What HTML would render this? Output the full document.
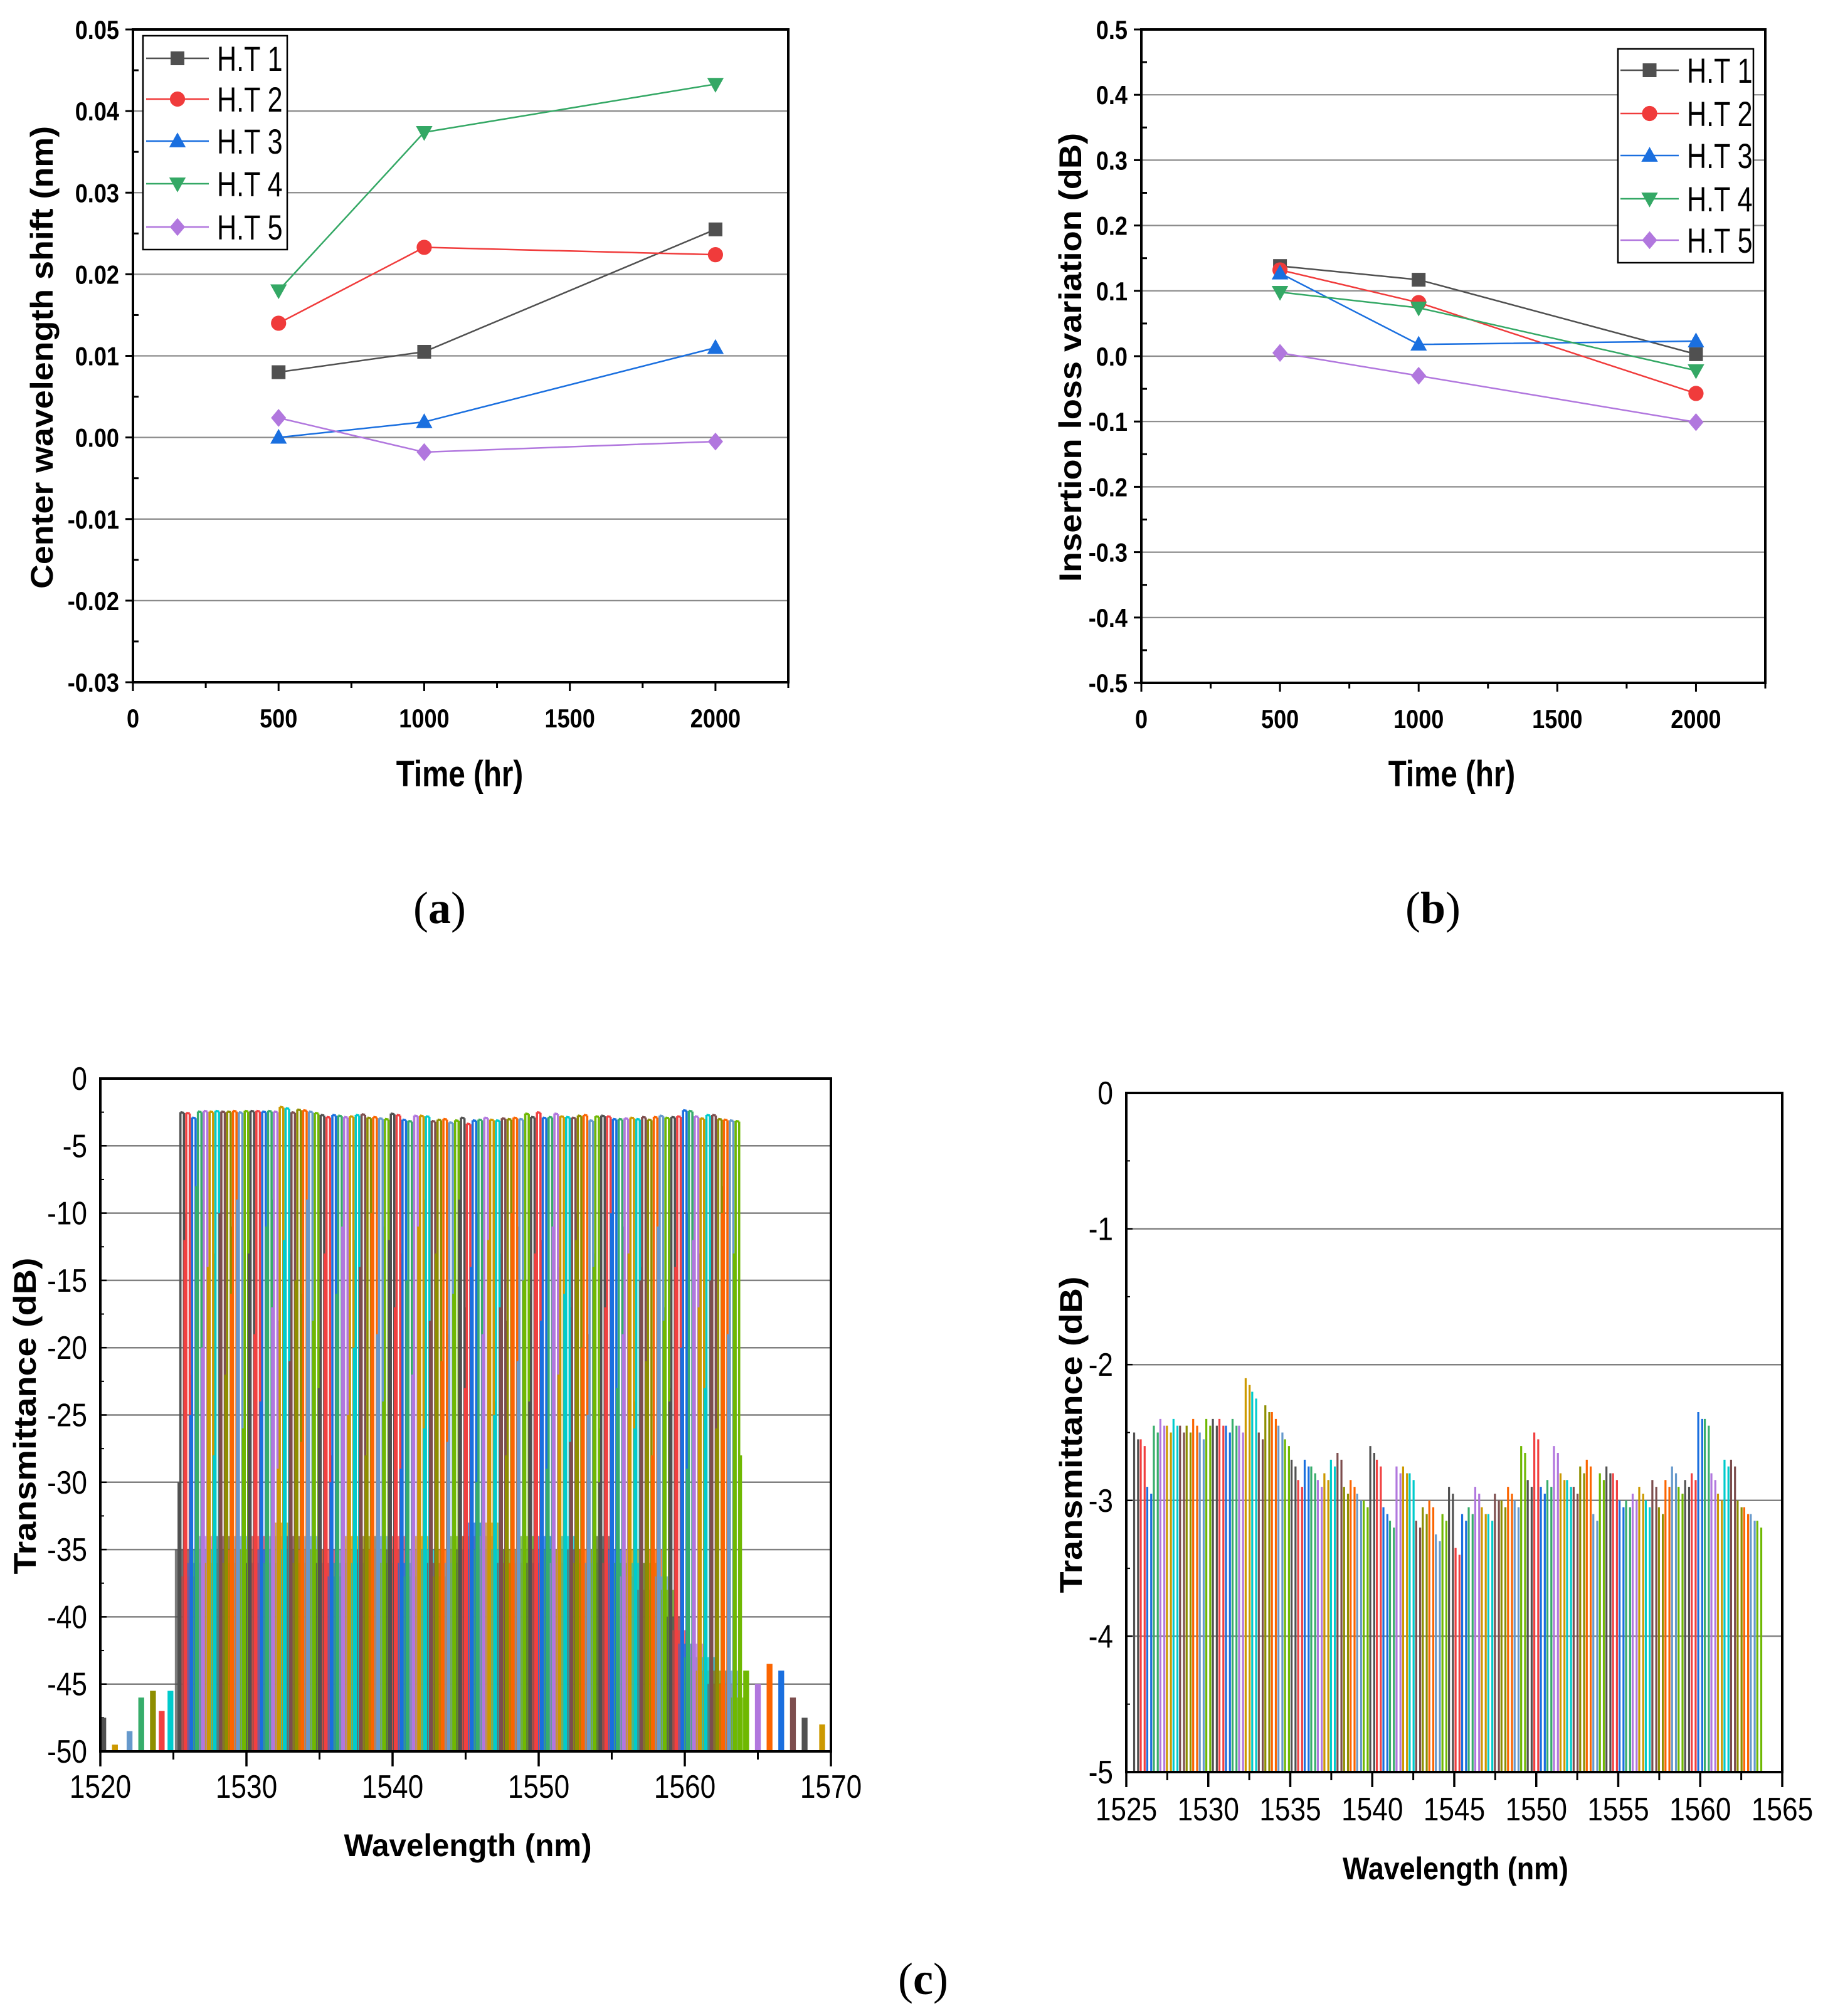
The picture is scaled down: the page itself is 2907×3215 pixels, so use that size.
<!DOCTYPE html>
<html><head><meta charset="utf-8"><title>Reliability and spectra figure</title>
<style>html,body{margin:0;padding:0;background:#fff;}svg{display:block;}</style></head>
<body>
<svg id="fig" xmlns="http://www.w3.org/2000/svg" width="2907" height="3215" viewBox="0 0 2907 3215">
<rect x="0" y="0" width="2907" height="3215" fill="#fff"/>
<text x="701" y="1472" font-family="Liberation Serif, serif" font-size="72" text-anchor="middle">(<tspan font-weight="bold">a</tspan>)</text>
<text x="2285" y="1472" font-family="Liberation Serif, serif" font-size="72" text-anchor="middle">(<tspan font-weight="bold">b</tspan>)</text>
<text x="1472" y="3180" font-family="Liberation Serif, serif" font-size="72" text-anchor="middle">(<tspan font-weight="bold">c</tspan>)</text>
</svg>
<script>
// ---------- data ----------
const timeHours = [500, 1000, 2000];
const seriesNames = ['H.T 1','H.T 2','H.T 3','H.T 4','H.T 5'];
const shiftHT1 = [0.0080, 0.0105, 0.0255];
const shiftHT2 = [0.0140, 0.0233, 0.0224];
const shiftHT3 = [0.0000, 0.0019, 0.0110];
const shiftHT4 = [0.0180, 0.0374, 0.0433];
const shiftHT5 = [0.0024, -0.0018, -0.0005];
const lossHT1 = [0.138, 0.117, 0.003];
const lossHT2 = [0.132, 0.082, -0.057];
const lossHT3 = [0.127, 0.018, 0.023];
const lossHT4 = [0.098, 0.074, -0.022];
const lossHT5 = [0.005, -0.030, -0.101];
const timeTicks = [0, 500, 1000, 1500, 2000];
const timeTickLabels = ['0','500','1000','1500','2000'];
const shiftTicks = [0.05,0.04,0.03,0.02,0.01,0,-0.01,-0.02,-0.03];
const shiftTickLabels = ['0.05','0.04','0.03','0.02','0.01','0.00','-0.01','-0.02','-0.03'];
const lossTicks = [0.5,0.4,0.3,0.2,0.1,0,-0.1,-0.2,-0.3,-0.4,-0.5];
const lossTickLabels = ['0.5','0.4','0.3','0.2','0.1','0.0','-0.1','-0.2','-0.3','-0.4','-0.5'];

const channelStart = 1525.6;
const channelStep = 0.4;
const channelPeaks = [-2.5,-2.55,-2.9,-2.45,-2.4,-2.45,-2.4,-2.45,-2.45,-2.4,-2.5,-2.4,-2.4,-2.4,-2.45,-2.4,
 -2.45,-2.1,-2.2,-2.5,-2.3,-2.35,-2.45,-2.55,-2.7,-2.85,-2.7,-2.75,-2.85,-2.8,-2.7,-2.65,
 -2.9,-2.85,-2.95,-3.0,-2.6,-2.7,-3.05,-3.15,-2.75,-2.75,-2.8,-3.15,-3.05,-3.0,-3.25,-3.1,
 -2.9,-3.35,-3.1,-3.05,-2.9,-3.05,-3.1,-2.95,-3.0,-2.9,-3.0,-2.6,-2.85,-2.5,-2.9,-2.85,
 -2.6,-2.8,-2.85,-2.9,-2.75,-2.7,-3.1,-2.8,-2.75,-2.8,-3.0,-3.0,-2.95,-2.9,-3.0,-2.85,
 -3.05,-2.85,-2.75,-2.9,-2.85,-2.8,-2.35,-2.4,-2.8,-2.95,-2.7,-2.7,-3.0,-3.05,-3.1,-3.15];
const channelSkirts = [-30,-12,-25,-8,-20,-14,-28,-10,-22,-16,-9,-26,-13,-19,-24,-11,
 -17,-29,-12,-21,-15,-27,-9,-18,-23,-13,-30,-16,-11,-25,-20,-14,
 -28,-10,-19,-24,-12,-17,-29,-15,-22,-11,-26,-18,-13,-21,-27,-16,
 -9,-23,-14,-30,-19,-12,-25,-17,-28,-10,-21,-15,-24,-13,-18,-29,
 -11,-22,-16,-27,-12,-20,-25,-14,-30,-17,-10,-23,-19,-13,-26,-15,
 -21,-28,-11,-18,-24,-14,-20,-29,-12,-17,-23,-15,-26,-10,-19,-13];
const channelFloors = [-35,-37,-36,-35,-34,-36,-35,-34,-36,-35,-34,-35,-36,-34,-35,-36,
 -34,-33,-35,-34,-36,-35,-34,-35,-36,-35,-37,-36,-35,-34,-36,-35,
 -34,-35,-34,-36,-35,-34,-36,-37,-35,-34,-35,-36,-37,-35,-36,-34,
 -35,-34,-33,-35,-34,-33,-35,-36,-35,-36,-35,-34,-36,-35,-34,-35,
 -36,-35,-34,-35,-36,-35,-36,-35,-34,-36,-35,-36,-37,-35,-36,-38,
 -36,-35,-37,-38,-40,-41,-42,-43,-42,-44,-43,-45,-44,-45,-44,-46];
const edgeNoiseWl = [1520.2,1521.0,1522.0,1522.8,1523.6,1524.2,1524.8,1564.2,1565.0,1565.8,1566.6,1567.4,1568.2,1569.4];
const edgeNoiseLevel = [-47.5,-49.5,-48.5,-46,-45.5,-47,-45.5,-44,-45,-43.5,-44,-46,-47.5,-48];
const wlTicksL = [1520,1530,1540,1550,1560,1570];
const wlTickLabelsL = ['1520','1530','1540','1550','1560','1570'];
const dbTicksL = [0,-5,-10,-15,-20,-25,-30,-35,-40,-45,-50];
const dbTickLabelsL = ['0','-5','-10','-15','-20','-25','-30','-35','-40','-45','-50'];
const wlTicksR = [1525,1530,1535,1540,1545,1550,1555,1560,1565];
const wlTickLabelsR = ['1525','1530','1535','1540','1545','1550','1555','1560','1565'];
const dbTicksR = [0,-1,-2,-3,-4,-5];
const dbTickLabelsR = ['0','-1','-2','-3','-4','-5'];

// ---------- helpers ----------
const NS = 'http://www.w3.org/2000/svg';
const svg = document.getElementById('fig');
function mk(tag, attrs, parent){
  const e = document.createElementNS(NS, tag);
  for (const k in attrs) e.setAttribute(k, attrs[k]);
  (parent || svg).appendChild(e);
  return e;
}
function txt(parent, x, y, s, size, weight, anchor, sx){
  const t = mk('text', {x:0, y:0, 'font-family':'Liberation Sans, Arial, sans-serif', 'font-size':size,
    'font-weight':weight, 'text-anchor':anchor, fill:'#000',
    transform:'translate('+x+','+y+') scale('+sx+',1)'}, parent);
  t.textContent = s;
  return t;
}
const palette = ['#515151','#F14040','#1A6FDF','#37AD6B','#B177DE','#CC9900','#00CBCC','#7D4E4E','#8E8E00','#FB6501','#6699CC','#6FB802'];
const seriesColors = ['#505050','#F03B3B','#1A6FDF','#34A865','#B177DE'];
const markerTypes = ['square','circle','up','down','diamond'];

function marker(parent, type, cx, cy, color, r){
  let e;
  if (type==='square') e = mk('rect',{x:cx-r,y:cy-r,width:2*r,height:2*r,fill:color},parent);
  else if (type==='circle') e = mk('circle',{cx:cx,cy:cy,r:r*1.1,fill:color},parent);
  else if (type==='up') e = mk('polygon',{points:(cx)+','+(cy-r*1.25)+' '+(cx-r*1.2)+','+(cy+r*0.9)+' '+(cx+r*1.2)+','+(cy+r*0.9),fill:color},parent);
  else if (type==='down') e = mk('polygon',{points:(cx)+','+(cy+r*1.25)+' '+(cx-r*1.2)+','+(cy-r*0.9)+' '+(cx+r*1.2)+','+(cy-r*0.9),fill:color},parent);
  else e = mk('polygon',{points:cx+','+(cy-r*1.3)+' '+(cx+r*1.1)+','+cy+' '+cx+','+(cy+r*1.3)+' '+(cx-r*1.1)+','+cy,fill:color},parent);
  return e;
}

// ---------- line charts ----------
function lineChart(o){
  const g = mk('g', {});
  
  
  const sx = v => o.x0 + (v - o.xmin) / (o.xmax - o.xmin) * (o.x1 - o.x0);
  const sy = v => o.y1 - (v - o.ymin) / (o.ymax - o.ymin) * (o.y1 - o.y0);
  o.yTicks.forEach((v,i) => {
    const y = sy(v);
    if (i>0 && i<o.yTicks.length-1){
      const gl = mk('line',{x1:o.x0,x2:o.x1,y1:y,y2:y,stroke:'#8a8a8a','stroke-width':2.2},g);
      
      
    }
    const tk = mk('line',{x1:o.x0-12,x2:o.x0,y1:y,y2:y,stroke:'#000','stroke-width':3},g);
    
    
    if (i<o.yTicks.length-1){
      const ym = sy((v + o.yTicks[i+1]) / 2);
      mk('line',{x1:o.x0,x2:o.x0+9,y1:ym,y2:ym,stroke:'#000','stroke-width':3},g);
    }
    const lb = txt(g, o.x0-22, y+15, o.yLabels[i], 42, 'bold', 'end', 0.86);
    
    
  });
  o.xTicks.forEach((v,i) => {
    const x = sx(v);
    const tk = mk('line',{x1:x,x2:x,y1:o.y1,y2:o.y1+14,stroke:'#000','stroke-width':3},g);
    
    
    const xm = sx(v+250);
    mk('line',{x1:xm,x2:xm,y1:o.y1,y2:o.y1+9,stroke:'#000','stroke-width':3},g);
    const lb = txt(g, x, o.y1+72, o.xLabels[i], 42, 'bold', 'middle', 0.86);
    
    
  });
  const fr = mk('rect',{x:o.x0,y:o.y0,width:o.x1-o.x0,height:o.y1-o.y0,fill:'none',stroke:'#000','stroke-width':4},g);
  
  
  o.series.forEach((vals, si) => {
    const sg = mk('g',{},g);
    
    
    const pts = vals.map((v,k)=> sx(timeHours[k])+','+sy(v)).join(' ');
    const pl = mk('polyline',{points:pts,fill:'none',stroke:seriesColors[si],'stroke-width':2.5},sg);
    
    
    vals.forEach((v,k)=>{
      const m = marker(sg, markerTypes[si], sx(timeHours[k]), sy(v), seriesColors[si], 11);
      
      
    });
  });
  const L = o.legend;
  const lg = mk('g',{},g);
  
  
  mk('rect',{x:L.x,y:L.y,width:L.w,height:L.h,fill:'#fff',stroke:'#000','stroke-width':2.5},lg);
  seriesNames.forEach((nm,si)=>{
    const ey = L.rows[si];
    const eg = mk('g',{},lg);
    
    
    mk('line',{x1:L.lx0,x2:L.lx1,y1:ey,y2:ey,stroke:seriesColors[si],'stroke-width':2.5},eg);
    marker(eg, markerTypes[si], (L.lx0+L.lx1)/2, ey, seriesColors[si], 11);
    txt(eg, L.tx, ey+20, nm, 56, 'normal', 'start', 0.77);
  });
  const yt = mk('text',{x:0,y:0,'font-family':'Liberation Sans, Arial, sans-serif','font-size':50,'font-weight':'bold',
    'text-anchor':'middle',textLength:o.ylabelLen,lengthAdjust:'spacingAndGlyphs',
    transform:'translate('+o.ylabelX+','+o.ylabelY+') rotate(-90)'},g);
  yt.textContent = o.ylabel;
  
  
  const xt = txt(g, o.xlabelX, 1254, 'Time (hr)', 58, 'bold', 'middle', 0.82);
  
  
}

lineChart({name:'chart-a-wavelength-shift', x0:212, x1:1257, y0:47, y1:1088, xmin:0, xmax:2250, ymin:-0.03, ymax:0.05,
  yTicks:shiftTicks, yLabels:shiftTickLabels, xTicks:timeTicks, xLabels:timeTickLabels,
  series:[shiftHT1,shiftHT2,shiftHT3,shiftHT4,shiftHT5],
  legend:{x:228,y:57,w:230,h:341,lx0:233,lx1:333,tx:346,rows:[93,158,225,293,362]},
  ylabel:'Center wavelength shift (nm)', ylabelLen:738, ylabelX:84, ylabelY:570, xlabelX:733});

lineChart({name:'chart-b-insertion-loss', x0:1820, x1:2815, y0:47, y1:1089, xmin:0, xmax:2250, ymin:-0.5, ymax:0.5,
  yTicks:lossTicks, yLabels:lossTickLabels, xTicks:timeTicks, xLabels:timeTickLabels,
  series:[lossHT1,lossHT2,lossHT3,lossHT4,lossHT5],
  legend:{x:2580,y:78,w:216,h:341,lx0:2584,lx1:2677,tx:2690,rows:[112,181,248,317,383]},
  ylabel:'Insertion loss variation (dB)', ylabelLen:716, ylabelX:1724, ylabelY:570, xlabelX:2315});

// ---------- spectra ----------
function spectrum(o){
  const g = mk('g',{});
  
  
  const sx = v => o.x0 + (v - o.xmin)/(o.xmax - o.xmin)*(o.x1 - o.x0);
  const sy = v => o.y1 - (v - o.ymin)/(o.ymax - o.ymin)*(o.y1 - o.y0);
  const cid = 'clip-'+o.name;
  const cp = mk('clipPath',{id:cid},g);
  mk('rect',{x:o.x0,y:o.y0,width:o.x1-o.x0,height:o.y1-o.y0},cp);
  o.yTicks.forEach((v,i)=>{
    const y = sy(v);
    if (i>0 && i<o.yTicks.length-1){
      const gl = mk('line',{x1:o.x0,x2:o.x1,y1:y,y2:y,stroke:'#808080','stroke-width':2.5},g);
      
      
    }
    mk('line',{x1:o.x0,x2:o.x0+10,y1:y,y2:y,stroke:'#000','stroke-width':2.5},g);
    if (i<o.yTicks.length-1){
      const ym = sy((v+o.yTicks[i+1])/2);
      mk('line',{x1:o.x0,x2:o.x0+6,y1:ym,y2:ym,stroke:'#000','stroke-width':2},g);
    }
    const lb = txt(g, o.x0-21, y+18, o.yLabels[i], 52, 'normal', 'end', 0.85);
    
    
  });
  o.xTicks.forEach((v,i)=>{
    const x = sx(v);
    mk('line',{x1:x,x2:x,y1:o.y1,y2:o.y1+24,stroke:'#000','stroke-width':3.5},g);
    if (i<o.xTicks.length-1){
      const xm = sx((v+o.xTicks[i+1])/2);
      mk('line',{x1:xm,x2:xm,y1:o.y1,y2:o.y1+13,stroke:'#000','stroke-width':3},g);
    }
    const lb = txt(g, x, o.xLabelY, o.xLabels[i], 52, 'normal', 'middle', 0.85);
    
    
  });
  const dg = mk('g',{'clip-path':'url(#'+cid+')'},g);
  
  
  if (o.floors){
    edgeNoiseWl.forEach((w,k)=>{
      const r = mk('rect',{x:sx(w-0.2),y:sy(edgeNoiseLevel[k]),width:sx(w+0.2)-sx(w-0.2),height:o.y1-sy(edgeNoiseLevel[k]),fill:palette[(k*5)%palette.length]},dg);
      
      
    });
    channelFloors.forEach((f,k)=>{
      const c = channelStart + k*channelStep;
      const r = mk('rect',{x:sx(c-0.5),y:sy(f),width:sx(c+0.5)-sx(c-0.5),height:o.y1-sy(f),fill:palette[k%palette.length],'fill-opacity':0.75},dg);
      
      
    });
  }
  channelPeaks.forEach((p,k)=>{
    const c = channelStart + k*channelStep;
    const col = palette[k%palette.length];
    const ch = mk('g',{},dg);
    
    
    const xa = sx(c-0.12), xb = sx(c+0.12);
    const yb = sy(o.ymin);
    mk('line',{x1:xa,x2:xa,y1:yb,y2:sy(p),stroke:col,'stroke-width':o.lw},ch);
    mk('line',{x1:xb,x2:xb,y1:yb,y2:sy(p-0.05),stroke:col,'stroke-width':o.lw},ch);
    if (o.floors){
      mk('line',{x1:xa,x2:xb,y1:sy(p),y2:sy(p-0.05),stroke:col,'stroke-width':o.lw},ch);
      const xc = sx(c-0.24), xd = sx(c+0.24);
      mk('line',{x1:xc,x2:xc,y1:yb,y2:sy(channelSkirts[k]),stroke:col,'stroke-width':o.lw},ch);
      mk('line',{x1:xd,x2:xd,y1:yb,y2:sy(channelSkirts[(k+7)%channelSkirts.length]),stroke:col,'stroke-width':o.lw},ch);
    }
  });
  const fr = mk('rect',{x:o.x0,y:o.y0,width:o.x1-o.x0,height:o.y1-o.y0,fill:'none',stroke:'#000','stroke-width':4},g);
  
  
  const yt = mk('text',{x:0,y:0,'font-family':'Liberation Sans, Arial, sans-serif','font-size':50,'font-weight':'bold',
    'text-anchor':'middle',textLength:505,lengthAdjust:'spacingAndGlyphs',
    transform:'translate('+o.ylabelX+','+o.ylabelY+') rotate(-90)'},g);
  yt.textContent = 'Transmittance (dB)';
  
  
  const xt = mk('text',{x:o.xlabelX,y:o.xlabelY,'font-family':'Liberation Sans, Arial, sans-serif','font-size':50,'font-weight':'bold',
    'text-anchor':'middle',textLength:o.xlabelLen,lengthAdjust:'spacingAndGlyphs'},g);
  xt.textContent = 'Wavelength (nm)';
  
  
}

spectrum({name:'chart-c-full-spectrum', x0:160, x1:1325, y0:1720, y1:2793, xmin:1520, xmax:1570, ymin:-50, ymax:0,
  yTicks:dbTicksL, yLabels:dbTickLabelsL, xTicks:wlTicksL, xLabels:wlTickLabelsL, xLabelY:2867,
  floors:true, lw:3.6, ylabelX:57, ylabelY:2258, xlabelX:746, xlabelY:2960, xlabelLen:395});

spectrum({name:'chart-c-passband-zoom', x0:1796, x1:2842, y0:1743, y1:2826, xmin:1525, xmax:1565, ymin:-5, ymax:0,
  yTicks:dbTicksR, yLabels:dbTickLabelsR, xTicks:wlTicksR, xLabels:wlTickLabelsR, xLabelY:2903,
  floors:false, lw:3.2, ylabelX:1725, ylabelY:2288, xlabelX:2321, xlabelY:2997, xlabelLen:360});
</script>
</body></html>
